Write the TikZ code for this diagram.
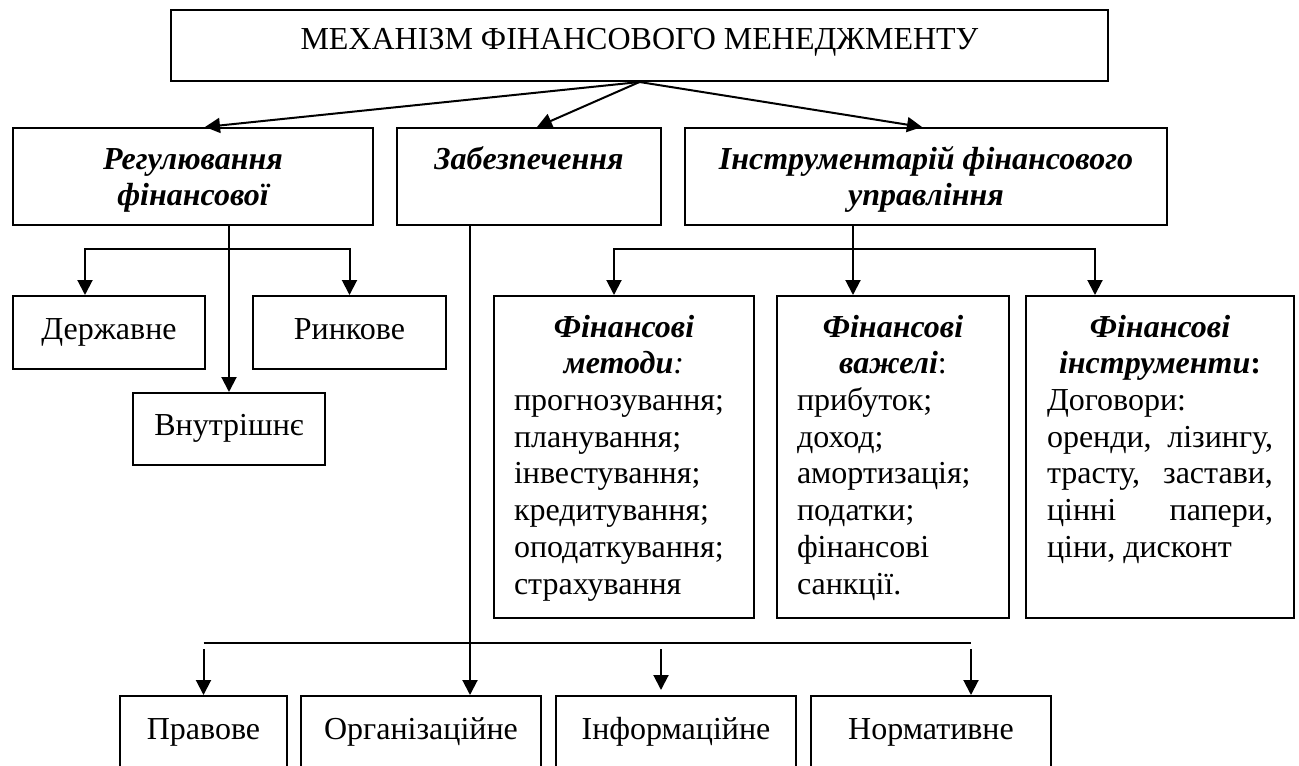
\documentclass[tikz,border=0pt]{standalone}
\usepackage{fontspec}
\setmainfont{Liberation Serif}
\usetikzlibrary{arrows.meta,positioning,calc}

\begin{document}
\begin{tikzpicture}[x=1pt,y=-1pt,line width=2pt,
  font=\fontsize{32pt}{36.7pt}\selectfont,
  box/.style={draw,inner sep=0pt},
  cell/.style={box,text height=22pt,text depth=9pt},
  arr/.style={-{Triangle[length=15pt,width=15pt]}},
  arrs/.style={{Triangle[length=15pt,width=15pt]}-{Triangle[length=15pt,width=15pt]}}]
\useasboundingbox (0,0) rectangle (1299,766);
\clip (0,0) rectangle (1299,766);
\node[box,minimum width=937pt,minimum height=71pt] (top) at (639.5,45.5)
  {\parbox[c][44pt][t]{900pt}{\centering\strut МЕХАНІЗМ ФІНАНСОВОГО МЕНЕДЖМЕНТУ}};
\node[box,minimum width=360pt,minimum height=97pt] (reg) at (193,176.5)
  {\parbox[c][66pt][t]{330pt}{\centering\strut\bfseries\itshape Регулювання\\ фінансової}};
\node[box,minimum width=264pt,minimum height=97pt] (zab) at (529,176.5)
  {\parbox[c][66pt][t]{240pt}{\centering\strut\bfseries\itshape Забезпечення}};
\node[box,minimum width=482pt,minimum height=97pt] (instr) at (926,176.5)
  {\parbox[c][66pt][t]{460pt}{\centering\strut\bfseries\itshape Інструментарій фінансового\\ управління}};
\node[cell,minimum width=192pt,minimum height=73pt] (derzh) at (109,332.5) {Державне};
\node[cell,minimum width=193pt,minimum height=73pt] (rynk) at (349.5,332.5) {Ринкове};
\node[cell,minimum width=192pt,minimum height=72pt] (vnut) at (229,429) {Внутрішнє};
\node[box,minimum width=260pt,minimum height=322pt] (meth) at (624,457)
  {\parbox[c][291pt][t]{220pt}{\centering\strut\bfseries\itshape Фінансові\\ методи{\mdseries:}\par
   \raggedright\upshape\mdseries прогнозування;\\ планування;\\ інвестування;\\ кредитування;\\ оподаткування;\\ страхування}};
\node[box,minimum width=232pt,minimum height=322pt] (vazh) at (893,457)
  {\parbox[c][291pt][t]{192pt}{\centering\strut\bfseries\itshape Фінансові\\ важелі{\mdseries\upshape:}\par
   \raggedright\upshape\mdseries прибуток;\\ доход;\\ амортизація;\\ податки;\\ фінансові\\ санкції.}};
\node[box,minimum width=268pt,minimum height=322pt] (instrs) at (1160,457)
  {\parbox[c][291pt][t]{226pt}{\centering\strut\bfseries\itshape Фінансові\\ інструменти{\upshape:}\par
   \leftskip=0pt\rightskip=0pt\parfillskip=0pt plus 1fil\pretolerance=10000\tolerance=10000\hbadness=10000
   \upshape\mdseries Договори:\par оренди, лізингу,\linebreak трасту, застави,\linebreak цінні папери,\linebreak ціни, дисконт\par}};
\node[cell,minimum width=167pt,minimum height=73pt] (prav) at (203.5,732.5) {Правове};
\node[cell,minimum width=240pt,minimum height=73pt] (org) at (421,732.5) {Організаційне};
\node[cell,minimum width=240pt,minimum height=73pt] (inf) at (676,732.5) {Інформаційне};
\node[cell,minimum width=240pt,minimum height=73pt] (norm) at (931,732.5) {Нормативне};

\draw[arr] (top.south) -- ([xshift=12pt]reg.north);
\draw[arr] (top.south) -- ([xshift=8pt]zab.north);
\draw[arr] (top.south) -- ([xshift=-4pt]instr.north);

\coordinate (rbar) at ($(reg.south)+(0,23)$);
\draw[arr] (reg.south -| vnut.north) -- (vnut.north);
\draw[arrs] ([xshift=-24pt]derzh.north) |- (rbar -| rynk.north) -- (rynk.north);

\coordinate (ibar) at ($(instr.south)+(0,23)$);
\draw[arr] ([xshift=-73pt]instr.south) -- ([xshift=-73pt]instr.south |- vazh.north);
\draw[arrs] ([xshift=-10pt]meth.north) |- ($(ibar -| instrs.north)+(-65,0)$) -- ([xshift=-65pt]instrs.north);

\draw[arr] ([xshift=-59pt]zab.south) -- ([xshift=-59pt]zab.south |- org.north);
\coordinate (bl) at (prav.north |- 0,643);
\coordinate (br) at ($(norm.north |- 0,643)+(40,0)$);
\draw (bl) -- (br);
\draw[arr,shorten <=6pt] (bl) -- (prav.north);
\draw[arr,shorten <=6pt,shorten >=5pt] ($(inf.north |- bl)+(-15,0)$) -- ([xshift=-15pt]inf.north);
\draw[arr,shorten <=6pt] (br) -- ([xshift=40pt]norm.north);
\end{tikzpicture}
\end{document}
